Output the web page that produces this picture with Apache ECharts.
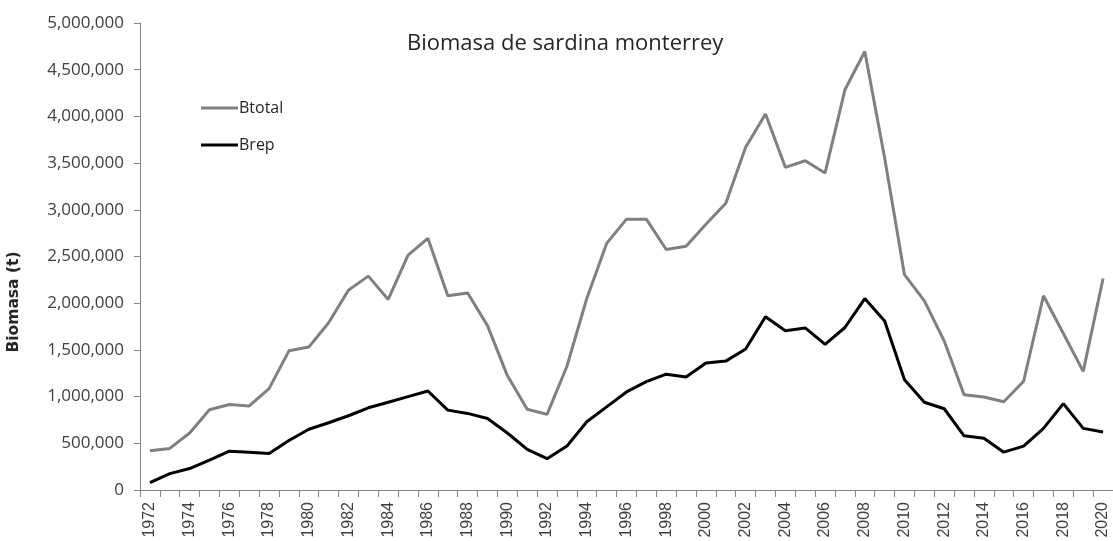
<!DOCTYPE html>
<html>
<head>
<meta charset="utf-8">
<title>Biomasa de sardina monterrey</title>
<script src="https://cdn.jsdelivr.net/npm/echarts@6/dist/echarts.min.js"></script>
<style>
  html, body { margin: 0; padding: 0; background: #fff; }
  #chart { width: 1113px; height: 541px; }
</style>
</head>
<body>
<div id="chart"></div>
<script>
// años de la serie
const years = []
for (let y = 1972; y <= 2020; y++) years.push(String(y))

// biomasa total (t)
const btotal = [
  420000, 445000, 610000, 860000, 915000, 900000, 1085000, 1490000, 1530000, 1790000,
  2140000, 2290000, 2040000, 2515000, 2695000, 2080000, 2110000, 1760000, 1225000, 865000,
  810000, 1325000, 2050000, 2640000, 2900000, 2900000, 2575000, 2610000, 2845000, 3070000,
  3670000, 4025000, 3455000, 3525000, 3395000, 4285000, 4695000, 3555000, 2305000, 2025000,
  1595000, 1020000, 995000, 945000, 1165000, 2080000, 1675000, 1270000, 2265000
]

// biomasa reproductora (t)
const brep = [
  80000, 175000, 230000, 320000, 415000, 405000, 390000, 530000, 650000, 720000,
  795000, 880000, 940000, 1000000, 1060000, 855000, 820000, 765000, 610000, 435000,
  335000, 470000, 730000, 890000, 1050000, 1160000, 1240000, 1210000, 1360000, 1380000,
  1510000, 1855000, 1705000, 1735000, 1560000, 1740000, 2050000, 1810000, 1180000, 940000,
  870000, 580000, 555000, 405000, 470000, 660000, 925000, 660000, 620000
]

const chart = echarts.init(document.getElementById('chart'))

chart.setOption({
  animation: false,
  backgroundColor: '#fff',
  title: {
    text: 'Biomasa de sardina monterrey',
    left: 402,
    top: 28,
    textStyle: {
      fontFamily: 'Open Sans',
      fontSize: 22,
      fontWeight: 'normal',
      color: '#262626'
    }
  },
  legend: {
    data: ['Btotal', 'Brep'],
    orient: 'vertical',
    left: 196,
    top: 93,
    icon: 'rect',
    itemWidth: 37,
    itemHeight: 3,
    itemGap: 17,
    textStyle: {
      fontFamily: 'Open Sans',
      fontSize: 16,
      lineHeight: 20,
      color: '#262626',
      padding: [0, 0, 0, -4]
    }
  },
  graphic: [{
    type: 'text',
    x: 14,
    y: 302,
    rotation: Math.PI / 2,
    style: {
      text: 'Biomasa (t)',
      font: 'bold 15.5px "DejaVu Sans"',
      fill: '#262626',
      textAlign: 'center',
      textVerticalAlign: 'middle'
    }
  }],
  grid: {
    left: 140,
    top: 23,
    bottom: 51,
    width: 977
  },
  xAxis: {
    type: 'category',
    data: years,
    boundaryGap: true,
    axisLine: { lineStyle: { color: '#868686', width: 1 } },
    axisTick: { show: true, interval: 0, length: 7, lineStyle: { color: '#868686' } },
    axisLabel: {
      interval: 1,
      rotate: 90,
      margin: 12,
      fontFamily: 'Liberation Sans',
      fontSize: 16,
      color: '#404040'
    },
    splitLine: { show: false }
  },
  yAxis: {
    type: 'value',
    min: 0,
    max: 5000000,
    interval: 500000,
    axisLine: { show: true, lineStyle: { color: '#868686', width: 1 } },
    axisTick: { show: true, length: 6, lineStyle: { color: '#868686' } },
    axisLabel: {
      margin: 16,
      fontFamily: 'Open Sans',
      fontSize: 17,
      color: '#404040',
      formatter: v => v.toLocaleString('en-US')
    },
    splitLine: { show: false }
  },
  series: [{
    name: 'Btotal',
    type: 'line',
    data: btotal,
    symbol: 'none',
    itemStyle: { color: '#808080' },
    lineStyle: { color: '#808080', width: 3 }
  }, {
    name: 'Brep',
    type: 'line',
    data: brep,
    symbol: 'none',
    itemStyle: { color: '#000' },
    lineStyle: { color: '#000', width: 3 }
  }]
})
</script>
</body>
</html>
